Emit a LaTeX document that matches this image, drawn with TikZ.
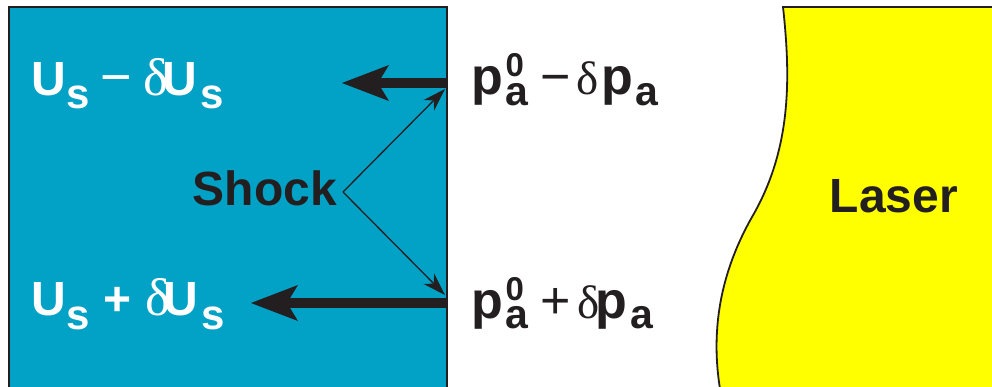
\documentclass[tikz,border=0pt]{standalone}
\usepackage{fontspec}
\setmainfont{Liberation Sans}
\newfontfamily\serifdelta{Liberation Serif}
\usetikzlibrary{arrows.meta}
\definecolor{bluebox}{RGB}{2,161,198}
\definecolor{ink}{RGB}{35,31,32}
\definecolor{laseryellow}{RGB}{255,255,0}
\newcommand\fs[1]{\fontsize{#1}{#1}\selectfont}
\newcommand\subS[2]{\raisebox{#1}{\fs{42}\bfseries #2}}
\newcommand\stackpa[2]{\rlap{\raisebox{#1}{\fs{33}\bfseries 0}}\raisebox{#2}{\fs{41}\bfseries a}}
\newcommand\dltL{{\serifdelta\fs{53}\mdseries δ}}
\newcommand\dltR{{\serifdelta\fs{47}\mdseries δ}}
\tikzset{
  lbl/.style={anchor=base west, inner sep=0pt, font=\fs{48}\bfseries},
  plbl/.style={anchor=base west, inner sep=0pt, font=\fs{52}\bfseries, text=ink},
  bigarrow/.style={draw=ink, line width=10pt,
    -{Stealth[length=47pt,width=36pt,inset=11pt,line width=0pt]}},
  thinarrow/.style={draw=ink, line width=1.3pt,
    -{Stealth[length=23pt,width=15pt,inset=7pt,line width=0pt]}},
  edge/.style={draw=ink, line width=1.8pt}
}
\begin{document}
\begin{tikzpicture}[x=1pt,y=-1pt]
\useasboundingbox (0,0) rectangle (992,386);
\clip (0,0) rectangle (992,386);
% target block
\path[fill=bluebox] (9,400) -- (9,7) -- (447,7) -- (447,400) -- cycle;
\draw[edge] (9,400) -- (9,7) -- (447,7) -- (447,400);
% laser
\path[fill=laseryellow] (1000,7) -- (783,7) .. controls (791,80) and (791,150) .. (752,217)
  .. controls (722,270) and (708,330) .. (722,400) -- (1000,400) -- cycle;
\draw[edge] (1000,7) -- (783,7) .. controls (791,80) and (791,150) .. (752,217)
  .. controls (722,270) and (708,330) .. (722,400);
% coordinates
\coordinate (t1) at (447,83);
\coordinate (h1) at (342,83);
\coordinate (t2) at (447,303);
\coordinate (h2) at (251,303);
\coordinate (sv) at (343,192);
\coordinate (e1) at (445,89);
\coordinate (e2) at (445,295);
% arrows
\draw[bigarrow] (t1) -- (h1);
\draw[bigarrow] (t2) -- (h2);
\draw[thinarrow] (sv) -- (e1);
\draw[thinarrow] (sv) -- (e2);
% labels
\node[lbl, text=white] (usm) at (31.5,95)
  {U\kern0.5pt\subS{-13pt}{s}\kern10.5pt{\fs{54}\mdseries −}\kern11.2pt\dltL\kern-5.6pt U\kern3pt\subS{-13pt}{s}};
\node[lbl, text=white] (usp) at (31.5,315)
  {U\kern0.5pt\subS{-14pt}{s}\kern13.5pt+\kern13.7pt\dltL\kern-6.5pt U\kern3pt\subS{-14pt}{s}};
\node[lbl, text=ink] (shock) at (192.6,205) {Shock};
\node[lbl, text=ink] (laser) at (829.5,212) {Laser};
\node[plbl] (pm) at (471.6,94)
  {p\kern2pt\stackpa{18pt}{-11pt}\kern12pt{\mdseries −}\kern6pt\dltR\kern3pt p\kern2pt\raisebox{-11pt}{\fs{41}a}};
\node[plbl] (pp) at (471.6,318)
  {p\kern2pt\stackpa{18pt}{-10pt}\kern12pt{\mdseries +}\kern6.3pt\dltR\kern-3.5pt p\kern3pt\raisebox{-10pt}{\fs{41}a}};
\end{tikzpicture}
\end{document}
